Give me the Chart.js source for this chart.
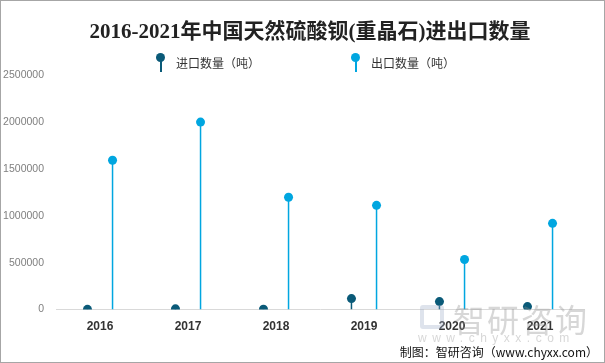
<!DOCTYPE html>
<html>
<head>
<meta charset="utf-8">
<script src="https://cdn.jsdelivr.net/npm/chart.js@4"></script>
<style>
  html, body { margin: 0; padding: 0; background: #fff; }
  #wrap { position: relative; width: 605px; height: 363px; box-sizing: border-box; border: 1px solid #a6a6a6; overflow: hidden; }
  #wrap canvas { position: absolute; left: 0; top: 0; }
  #title { position: absolute; left: 0; width: 618px; top: 13px; text-align: center; font: bold 21px "Liberation Serif", "Noto Sans CJK SC", serif; color: #222; white-space: nowrap; }
  .legend-item { position: absolute; top: 52px; height: 20px; font: 12px "Noto Sans CJK SC", sans-serif; color: #333; }
  .legend-item .dot { position: absolute; left: -4px; top: 0; width: 9px; height: 9px; border-radius: 50%; }
  .legend-item .stem { position: absolute; left: 0; top: 6px; width: 1.5px; height: 13px; }
  .legend-item .txt { position: absolute; left: 16px; top: 1px; white-space: nowrap; }
  #wm-logo { position: absolute; left: 419px; top: 304px; width: 24px; height: 24px; border: 4px solid rgba(160,175,200,0.35); box-sizing: border-box; border-radius: 3px; }
  #wm-text { position: absolute; left: 452px; top: 294px; font: 32px "Noto Sans CJK SC", sans-serif; color: rgba(140,140,140,0.35); letter-spacing: 2px; }
  #wm-url { position: absolute; left: 417px; top: 330px; font: 12px "Liberation Sans", sans-serif; color: rgba(140,140,140,0.35); letter-spacing: 5.5px; }
  #source { position: absolute; right: 6px; top: 342px; font: 12px "Noto Sans CJK SC", sans-serif; color: #111; white-space: nowrap; }
</style>
</head>
<body>
<div id="wrap">
  <canvas id="chart" width="603" height="361"></canvas>
  <div id="title">2016-2021年中国天然硫酸钡(重晶石)进出口数量</div>
  <div class="legend-item" style="left:159px"><div class="stem" style="background:#0a5a78"></div><div class="dot" style="background:#0a5a78"></div><span class="txt">进口数量（吨）</span></div>
  <div class="legend-item" style="left:354px"><div class="stem" style="background:#00a6e0"></div><div class="dot" style="background:#00a6e0"></div><span class="txt">出口数量（吨）</span></div>
  <div id="wm-logo"></div>
  <div id="wm-text">智研咨询</div>
  <div id="wm-url">www.chyxx.com</div>
  <div id="source">制图：智研咨询（www.chyxx.com）</div>
</div>
<script>
const years = ["2016", "2017", "2018", "2019", "2020", "2021"];
const importTons = [3000, 8000, 5000, 117000, 85000, 32000];
const exportTons = [1592000, 1998000, 1197000, 1111000, 534000, 919000];
const yTicksMax = 2500000;
const yTickStep = 500000;

const importColor = "#0a5a78";
const exportColor = "#00a6e0";

// draws the round heads on top of each thin bar
const lollipopHeads = {
  id: "lollipopHeads",
  afterDatasetsDraw(chart) {
    const { ctx, chartArea } = chart;
    ctx.save();
    ctx.beginPath();
    ctx.rect(chartArea.left, chartArea.top - 10, chartArea.right - chartArea.left, chartArea.bottom - chartArea.top + 10);
    ctx.clip();
    chart.data.datasets.forEach((ds, i) => {
      chart.getDatasetMeta(i).data.forEach(bar => {
        ctx.beginPath();
        ctx.arc(bar.x, bar.y, 4.5, 0, Math.PI * 2);
        ctx.fillStyle = ds.backgroundColor;
        ctx.fill();
      });
    });
    ctx.restore();
  }
};

new Chart(document.getElementById("chart"), {
  type: "bar",
  data: {
    labels: years,
    datasets: [
      { label: "进口数量（吨）", data: importTons, backgroundColor: importColor, maxBarThickness: 1.5 },
      { label: "出口数量（吨）", data: exportTons, backgroundColor: exportColor, maxBarThickness: 1.5 }
    ]
  },
  options: {
    responsive: false,
    animation: false,
    categoryPercentage: 0.57,
    barPercentage: 1,
    layout: { padding: { left: 0, right: 20, top: 74, bottom: 18 } },
    plugins: {
      legend: { display: false },
      tooltip: { enabled: false }
    },
    scales: {
      x: {
        grid: { display: false, drawTicks: false },
        border: { display: true, color: "#d9d9d9", width: 1 },
        ticks: { color: "#333", padding: 10, font: { family: "'Liberation Sans', sans-serif", size: 12, weight: "bold" } }
      },
      y: {
        min: 0,
        max: yTicksMax,
        grid: { display: false, drawTicks: false },
        border: { display: false },
        afterFit: scale => { scale.width = 55; },
        ticks: {
          stepSize: yTickStep,
          color: "#7f7f7f",
          padding: 12,
          font: { family: "'Liberation Sans', sans-serif", size: 10.5 },
          callback: v => String(v)
        }
      }
    }
  },
  plugins: [lollipopHeads]
});
</script>
</body>
</html>
